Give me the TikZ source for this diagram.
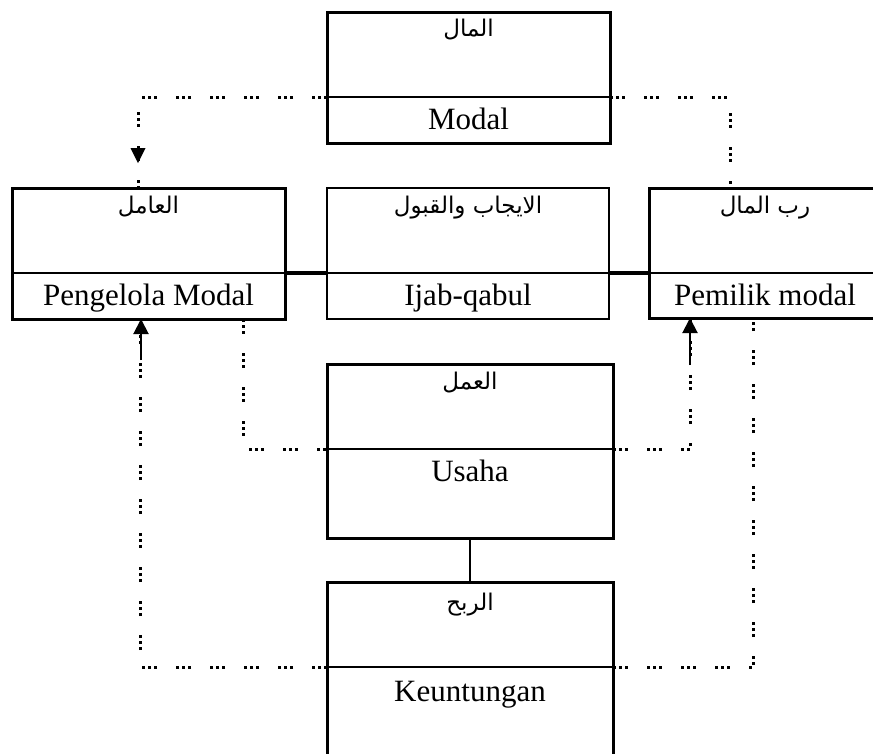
\documentclass[tikz,border=0pt]{standalone}
\usepackage{fontspec}
\setmainfont{Liberation Serif}
\newfontfamily\arabicfont[Script=Arabic]{DejaVu Sans}
\TeXXeTstate=1
\usetikzlibrary{arrows.meta,calc}

\tikzset{
  boxthick/.style={draw, rectangle, line width=3pt, inner sep=0pt, outer sep=0pt, anchor=north west},
  boxthin/.style={draw, rectangle, line width=1.4pt, inner sep=0pt, outer sep=0pt, anchor=north west},
  divider/.style={line width=1.4pt},
  latinlbl/.style={font=\fontsize{31}{36}\selectfont, inner sep=0pt, text height=21pt, text depth=7pt},
  arlbl/.style={font=\arabicfont\fontsize{23}{28}\selectfont, inner sep=0pt, text height=20pt, text depth=7pt},
  dotline/.style={line width=3pt, dash pattern=on 3pt off 3pt on 3pt off 3pt on 3pt off 19pt},
  solidlink/.style={line width=3.5pt},
  tiparrow/.style={line width=2pt, -{Triangle[width=15pt,length=15pt]}},
}

\begin{document}
\begin{tikzpicture}[x=1pt, y=-1pt]
  \fill[white] (0,0) rectangle (873,753);
  \useasboundingbox (0,0) rectangle (873,753);

  % boxes
  \node[boxthick, minimum width=283pt, minimum height=131pt] (modal) at (327,12) {};
  \node[boxthick, minimum width=273pt, minimum height=131pt] (lbox) at (12,188) {};
  \node[boxthin,  minimum width=282pt, minimum height=131pt] (mid) at (327,188) {};
  \node[boxthick, minimum width=232pt, minimum height=130pt] (rbox) at (649,188) {};
  \node[boxthick, minimum width=286pt, minimum height=174pt] (usaha) at (327,364) {};
  \node[boxthick, minimum width=286pt, minimum height=174pt] (keu) at (327,582) {};

  % dividers between the Arabic and the Latin half
  \foreach \b in {modal, lbox, mid, rbox, usaha, keu} {
    \path (\b.north west) ++(0,85) coordinate (\b DL);
    \path (\b.north east) ++(0,85) coordinate (\b DR);
    \draw[divider] (\b DL) -- (\b DR);
  }

  % labels
  \node[arlbl] (modalar) at ([yshift=-18pt]modal.north) {\beginR المال\endR};
  \node[latinlbl] (modalla) at ([yshift=-25pt]$(modalDL)!0.5!(modalDR)$) {Modal};
  \node[arlbl] (lboxar) at ([yshift=-19pt]lbox.north) {\beginR العامل\endR};
  \node[latinlbl] (lboxla) at ([yshift=-25pt]$(lboxDL)!0.5!(lboxDR)$) {Pengelola Modal};
  \node[arlbl] (midar) at ([yshift=-19pt]mid.north) {\beginR الايجاب والقبول\endR};
  \node[latinlbl] (midla) at ([yshift=-25pt]$(midDL)!0.5!(midDR)$) {Ijab-qabul};
  \node[arlbl] (rboxar) at ([yshift=-19pt]rbox.north) {\beginR رب المال\endR};
  \node[latinlbl] (rboxla) at ([yshift=-25pt]$(rboxDL)!0.5!(rboxDR)$) {Pemilik modal};
  \node[arlbl] (usahaar) at ([yshift=-19pt]usaha.north) {\beginR العمل\endR};
  \node[latinlbl] (usahala) at ([yshift=-25pt]$(usahaDL)!0.5!(usahaDR)$) {Usaha};
  \node[arlbl] (keuar) at ([yshift=-22pt]keu.north) {\beginR الربح\endR};
  \node[latinlbl] (keula) at ([yshift=-27pt]$(keuDL)!0.5!(keuDR)$) {Keuntungan};

  % solid links
  \draw[solidlink] (lboxDR) -- (midDL);
  \draw[solidlink] (midDR) -- (rboxDL);
  \draw[line width=2.5pt] (usaha.south) -- (keu.north);

  % dotted links
  \coordinate (c1) at (138,97);
  \draw[dotline] (modalDL) -- (c1) -- (c1 |- lbox.north);
  \fill (130.5,148) -- (145.5,148) -- (138,163) -- cycle;

  \coordinate (c2) at (730,97);
  \draw[dotline] (modalDR) -- (c2) -- (c2 |- rbox.north);

  \coordinate (c3) at (243,449);
  \draw[dotline] (c3 |- lbox.south) -- (c3) -- (usahaDL);

  \coordinate (c4) at (140,667);
  \draw[dotline] (keuDL) -- (c4) -- (c4 |- lbox.south);
  \coordinate (a4) at (141,360);
  \draw[tiparrow] (a4) -- (a4 |- lbox.south);

  \coordinate (c5) at (690,449);
  \draw[dotline] (usahaDR) -- (c5) -- (c5 |- rbox.south);
  \coordinate (a5) at (690,365);
  \draw[tiparrow] (a5) -- (a5 |- rbox.south);

  \coordinate (c6) at (753,667);
  \draw[dotline] (keuDR) -- (c6) -- (c6 |- rbox.south);
\end{tikzpicture}
\end{document}
